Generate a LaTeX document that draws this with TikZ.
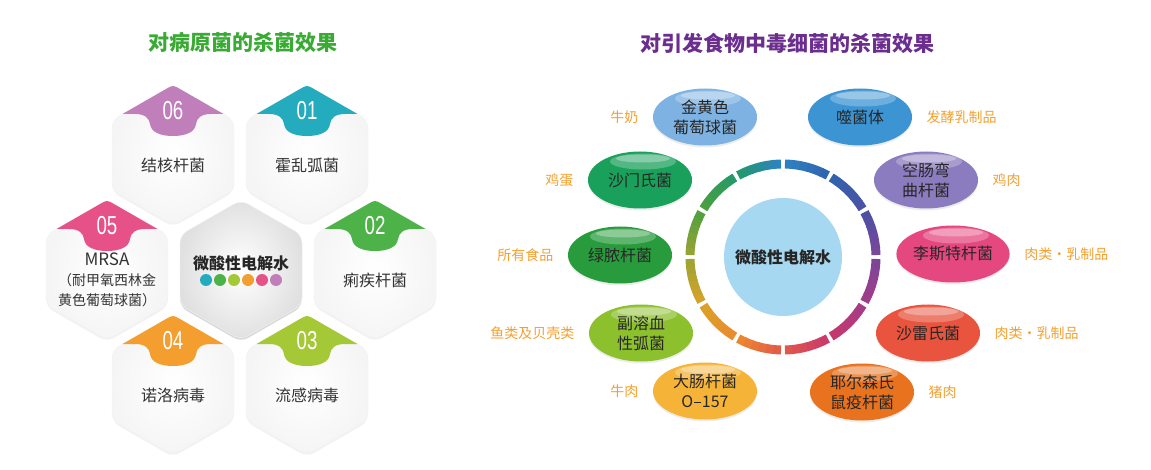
\documentclass[tikz,border=0pt]{standalone}
\usepackage{fontspec}
\setmainfont{Noto Sans CJK SC}
\newfontfamily\numfont[FakeStretch=0.72]{Liberation Sans}
\usetikzlibrary{shapes.geometric, positioning, shadows}
\definecolor{TitleGreen}{RGB}{58,170,53}
\definecolor{TitlePurple}{RGB}{107,45,142}
\definecolor{TextGray}{RGB}{51,51,51}
\definecolor{FoodOrange}{RGB}{243,160,48}
\definecolor{WaterBlue}{RGB}{166,216,242}
% hexagon colours
\definecolor{HexTeal}{RGB}{37,171,190}
\definecolor{HexGreen}{RGB}{77,178,71}
\definecolor{HexLime}{RGB}{165,200,55}
\definecolor{HexOrange}{RGB}{244,158,48}
\definecolor{HexPink}{RGB}{230,82,135}
\definecolor{HexViolet}{RGB}{192,126,187}
% ellipse colours
\definecolor{BugSky}{RGB}{125,178,226}
\definecolor{BugBlue}{RGB}{60,148,210}
\definecolor{BugLilac}{RGB}{138,124,190}
\definecolor{BugPink}{RGB}{229,72,126}
\definecolor{BugRed}{RGB}{232,84,62}
\definecolor{BugOrange}{RGB}{232,114,30}
\definecolor{BugYellow}{RGB}{245,180,55}
\definecolor{BugLime}{RGB}{140,192,45}
\definecolor{BugGreen}{RGB}{40,155,60}
\definecolor{BugTeal}{RGB}{25,160,90}
% ring colours, clockwise from the top
\definecolor{RingA}{RGB}{46,130,194}
\definecolor{RingB}{RGB}{47,100,174}
\definecolor{RingC}{RGB}{74,82,164}
\definecolor{RingD}{RGB}{122,70,153}
\definecolor{RingE}{RGB}{163,60,136}
\definecolor{RingF}{RGB}{200,56,108}
\definecolor{RingG}{RGB}{226,88,74}
\definecolor{RingH}{RGB}{236,138,44}
\definecolor{RingI}{RGB}{217,162,40}
\definecolor{RingJ}{RGB}{154,164,52}
\definecolor{RingK}{RGB}{77,160,62}
\definecolor{RingL}{RGB}{35,153,106}

\begin{document}
\begin{tikzpicture}[x=1pt, y=-1pt,
    hexcell/.style={shading=radial, inner color=white, outer color=black!4, draw=black!5, rounded corners=8pt,
                    drop shadow={opacity=0.10, shadow xshift=0pt, shadow yshift=-2pt}},
    hexlabel/.style={text=TextGray, align=center, font=\fontsize{16}{20}\selectfont},
    hexnum/.style={text=white, inner sep=0pt, font=\numfont\fontsize{26}{26}\selectfont},
    bugcell/.style={ellipse, fill=#1, minimum width=104pt, minimum height=57pt, inner sep=0pt,
                    text=black!85, align=center, font=\fontsize{16}{20}\selectfont,
                    drop shadow={opacity=0.15, shadow xshift=0pt, shadow yshift=-2pt},
                    path picture={
                        \fill[white, opacity=0.25] ([xshift=3pt, yshift=-10pt]path picture bounding box.north) ellipse [x radius=33, y radius=8];
                        \fill[white, opacity=0.3] ([xshift=3pt, yshift=-7pt]path picture bounding box.north) ellipse [x radius=27, y radius=4];
                    }},
    food/.style={text=FoodOrange, font=\fontsize{14}{16}\selectfont},
    headline/.style={font=\bfseries\fontsize{21}{24}\selectfont}]
    \useasboundingbox (0,0) rectangle (1151,470);

    % left: honeycomb
    \node[headline, text=TitleGreen] (lefttitle) at (243,43) {对病原菌的杀菌效果};
    \foreach \n/\cx/\cy/\col/\txt in {
        01/307/155/HexTeal/霍乱弧菌,
        02/375/270/HexGreen/痢疾杆菌,
        03/307/385/HexLime/流感病毒,
        04/173/385/HexOrange/诺洛病毒,
        05/107/270/HexPink/{{\fontsize{17}{18}\selectfont MRSA}\\{\fontsize{14}{17}\selectfont（耐甲氧西林金}\\{\fontsize{14}{17}\selectfont 黄色葡萄球菌）}},
        06/173/155/HexViolet/结核杆菌}
    {
        \path[hexcell] (\cx,\cy-70) -- (\cx+61,\cy-35) -- (\cx+61,\cy+35) -- (\cx,\cy+70)
            -- (\cx-61,\cy+35) -- (\cx-61,\cy-35) -- cycle;
        \fill[fill=\col] (\cx-50.5,\cy-41) -- (\cx-6.9,\cy-66) .. controls (\cx,\cy-70) .. (\cx+6.9,\cy-66)
            -- (\cx+50.5,\cy-41) -- (\cx+38,\cy-41)
            .. controls (\cx+28,\cy-41) and (\cx+24,\cy-37) .. (\cx+23,\cy-31)
            .. controls (\cx+22,\cy-23) and (\cx+13,\cy-19) .. (\cx,\cy-19)
            .. controls (\cx-13,\cy-19) and (\cx-22,\cy-23) .. (\cx-23,\cy-31)
            .. controls (\cx-24,\cy-37) and (\cx-28,\cy-41) .. (\cx-38,\cy-41) -- cycle;
        \node[hexnum] (num\n) at (\cx,\cy-44) {\n};
        \node[hexlabel] (germ\n) at (\cx,\cy+10) {\txt};
    }
    \path[hexcell, outer color=black!12, drop shadow={opacity=0.22, shadow xshift=0pt, shadow yshift=-2pt}]
        (241,200) -- (302,235) -- (302,305) -- (241,340) -- (180,305) -- (180,235) -- cycle;
    \node[text=black!85, font=\bfseries\fontsize{16}{18}\selectfont] (hexwater) at (241,263) {微酸性电解水};
    \foreach \col [count=\i] in {HexTeal, HexGreen, HexLime, HexOrange, HexPink, HexViolet}
        \fill[fill=\col] (192+14*\i,280) circle (6);

    % right: ring and ellipses
    \node[headline, text=TitlePurple] (righttitle) at (787,43) {对引发食物中毒细菌的杀菌效果};
    \coordinate (ring) at (783,257);
    \foreach \i/\ca/\cb in {0/RingA/RingB, 1/RingB/RingC, 2/RingC/RingD, 3/RingD/RingE,
                            4/RingE/RingF, 5/RingF/RingG, 6/RingG/RingH, 7/RingH/RingI,
                            8/RingI/RingJ, 9/RingJ/RingK, 10/RingK/RingL, 11/RingL/RingA}
        \foreach \k in {0,...,5}
        {
            \pgfmathsetmacro\ts{-88.8+30*\i+4.6*\k}
            \pgfmathsetmacro\te{\ts+4.6+0.4*(\k<5)}
            \pgfmathtruncatemacro\mix{100-(\k+0.5)*100/6}
            \draw[line width=9pt, draw=\ca!\mix!\cb] ([shift={(\ts:93)}]ring) arc[start angle=\ts, end angle=\te, radius=93];
        }
    \node[circle, fill=WaterBlue, minimum size=118pt, inner sep=0pt, text=black!85,
          font=\bfseries\fontsize{16}{18}\selectfont] (water) at (ring) {微酸性电解水};

    \node[bugcell=BugSky]    (aureus)     at (705,117) {金黄色\\葡萄球菌};
    \node[bugcell=BugBlue]   (phage)      at (860,117) {噬菌体};
    \node[bugcell=BugLilac]  (campylo)    at (926,180) {空肠弯\\曲杆菌};
    \node[bugcell=BugPink]   (listeria)   at (953,254) {李斯特杆菌};
    \node[bugcell=BugRed]    (serratia)   at (928,333) {沙雷氏菌};
    \node[bugcell=BugOrange] (yersinia)   at (862,392) {耶尔森氏\\鼠疫杆菌};
    \node[bugcell=BugYellow] (ecoli)      at (705,391) {大肠杆菌\\O–157};
    \node[bugcell=BugLime]   (vibrio)     at (641,333) {副溶血\\性弧菌};
    \node[bugcell=BugGreen]  (pseudo)     at (620,255) {绿脓杆菌};
    \node[bugcell=BugTeal]   (salmonella) at (640,180) {沙门氏菌};

    \node[food, left=11pt of aureus]      (milk)    {牛奶};
    \node[food, right=11pt of phage]      (yogurt)  {发酵乳制品};
    \node[food, right=11pt of campylo]    (chicken) {鸡肉};
    \node[food, right=11pt of listeria]   (meat1)   {肉类・乳制品};
    \node[food, right=11pt of serratia]   (meat2)   {肉类・乳制品};
    \node[food, right=11pt of yersinia]   (pork)    {猪肉};
    \node[food, left=11pt of ecoli]       (beef)    {牛肉};
    \node[food, left=11pt of vibrio]      (seafood) {鱼类及贝壳类};
    \node[food, left=11pt of pseudo]      (allfood) {所有食品};
    \node[food, left=11pt of salmonella]  (egg)     {鸡蛋};
\end{tikzpicture}
\end{document}
